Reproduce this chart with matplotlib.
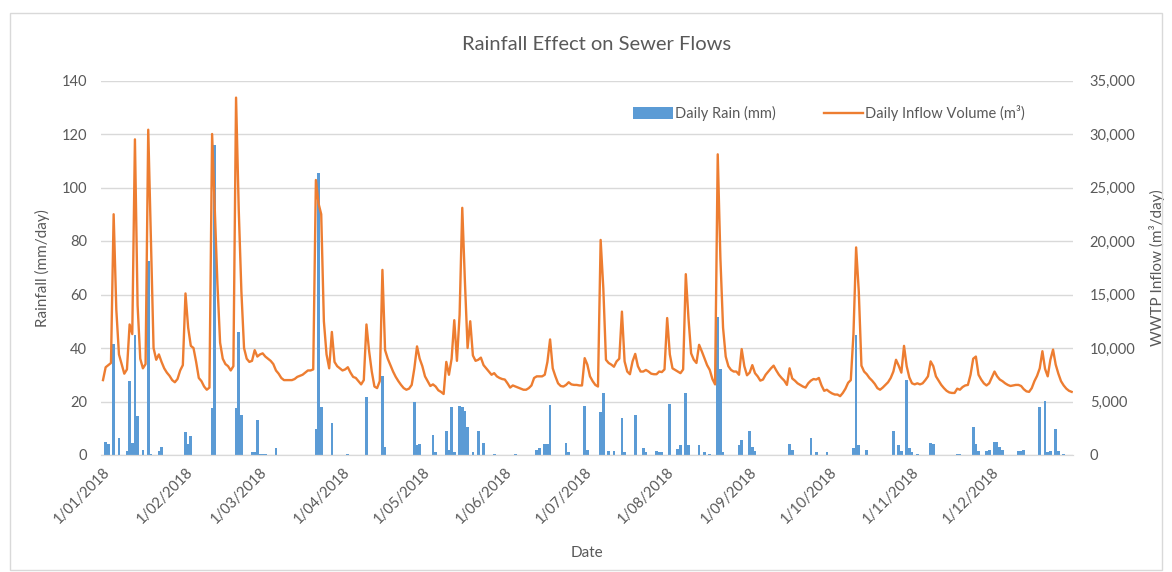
import matplotlib
matplotlib.use("Agg")
import matplotlib.pyplot as plt
import matplotlib.dates as mdates
from matplotlib.patches import Patch, Rectangle
from matplotlib.lines import Line2D
from matplotlib.ticker import FuncFormatter, MultipleLocator
import pandas as pd

plt.rcParams['font.family'] = ['Lato', 'DejaVu Sans']

# daily inflow (m3/day), 1 Jan 2018 .. 31 Dec 2018
inflow = [
    7000, 8200, 8400, 8600, 22500, 13600, 9400, 8500, 7600, 8000,
    12200, 11300, 29500, 14000, 9000, 8100, 8500, 30400, 20000, 10000,
    8900, 9400, 8700, 8100, 7700, 7400, 7000, 6800, 7100, 7900,
    8400, 15100, 11900, 10200, 10000, 8700, 7200, 6900, 6400, 6100,
    6300, 30000, 23000, 16000, 10500, 9000, 8500, 8300, 7900, 8300,
    33400, 23000, 15300, 10000, 9000, 8700, 8800, 9800, 9200, 9400,
    9500, 9200, 9000, 8800, 8500, 7900, 7600, 7200, 7000, 7000,
    7000, 7000, 7100, 7300, 7400, 7500, 7700, 7900, 7900, 8000,
    25700, 23500, 22500, 12500, 9400, 8100, 11500, 8700, 8300, 8100,
    7900, 8000, 8200, 7700, 7300, 7200, 6900, 6600, 7000, 12200,
    9700, 7800, 6400, 6250, 6900, 17300, 9800, 9000, 8400, 7800,
    7300, 6900, 6550, 6250, 6100, 6200, 6550, 8100, 10150, 9000,
    8300, 7350, 6900, 6450, 6600, 6400, 6050, 5900, 5700, 8700,
    7500, 9000, 12600, 8800, 13100, 23100, 16200, 10000, 12500, 9300,
    8800, 8900, 9100, 8400, 8100, 7800, 7500, 7650, 7350, 7200,
    7100, 7050, 6700, 6300, 6500, 6400, 6300, 6200, 6100, 6100,
    6250, 6500, 7200, 7350, 7350, 7350, 7500, 8700, 10800, 8100,
    7350, 6700, 6450, 6400, 6550, 6800, 6600, 6550, 6550, 6500,
    6500, 9050, 8450, 7350, 6900, 6550, 6400, 20100, 15600, 8900,
    8600, 8450, 8250, 8750, 9000, 13400, 8750, 7800, 7550, 8750,
    9450, 8300, 7800, 7800, 7950, 7800, 7600, 7550, 7550, 7800,
    7750, 8000, 12800, 9400, 8100, 7950, 7800, 7650, 8000, 16900,
    12800, 9500, 8900, 8600, 10300, 9700, 9050, 8400, 7950, 7100,
    6600, 28100, 18400, 11900, 9200, 8300, 7950, 7800, 7800, 7500,
    9900, 8300, 7450, 7700, 8400, 7650, 7350, 6950, 7050, 7500,
    7800, 8100, 8350, 7900, 7500, 7200, 6950, 6550, 8100, 7150,
    6950, 6700, 6550, 6400, 6300, 6700, 6950, 7100, 7050, 7200,
    6500, 6000, 6100, 5900, 5750, 5650, 5650, 5500, 5800, 6200,
    6750, 7000, 11300, 19400, 15300, 8350, 7800, 7550, 7200, 6950,
    6650, 6250, 6100, 6300, 6550, 6800, 7200, 7800, 8900, 8350,
    7700, 10200, 8300, 7250, 6700, 6600, 6700, 6600, 6700, 7000,
    7350, 8750, 8300, 7350, 6950, 6550, 6250, 6000, 5850, 5800,
    5800, 6200, 6100, 6350, 6500, 6550, 7500, 9000, 9200, 7500,
    7050, 6700, 6500, 6700, 7250, 7800, 7350, 7050, 6900, 6700,
    6550, 6450, 6500, 6550, 6550, 6450, 6150, 5950, 5900, 6250,
    6900, 7400, 8100, 9700, 8050, 7350, 8900, 9850, 8450, 7600,
    6900, 6500, 6200, 6000, 5900,
]

# days with rain (mm/day)
rain_dates = [
    '2018-01-02', '2018-01-03', '2018-01-05', '2018-01-07', '2018-01-10',
    '2018-01-11', '2018-01-12', '2018-01-13', '2018-01-14', '2018-01-16',
    '2018-01-18', '2018-01-19', '2018-01-22', '2018-01-23', '2018-02-01',
    '2018-02-02', '2018-02-03', '2018-02-11', '2018-02-12', '2018-02-20',
    '2018-02-21', '2018-02-22', '2018-02-26', '2018-02-27', '2018-02-28',
    '2018-03-01', '2018-03-02', '2018-03-03', '2018-03-07', '2018-03-22',
    '2018-03-23', '2018-03-24', '2018-03-28', '2018-04-03', '2018-04-10',
    '2018-04-16', '2018-04-17', '2018-04-28', '2018-04-29', '2018-04-30',
    '2018-05-05', '2018-05-06', '2018-05-10', '2018-05-11', '2018-05-12',
    '2018-05-13', '2018-05-15', '2018-05-16', '2018-05-17', '2018-05-18',
    '2018-05-20', '2018-05-22', '2018-05-24', '2018-05-28', '2018-06-05',
    '2018-06-13', '2018-06-14', '2018-06-16', '2018-06-17', '2018-06-18',
    '2018-06-24', '2018-06-25', '2018-07-01', '2018-07-02', '2018-07-07',
    '2018-07-08', '2018-07-10', '2018-07-12', '2018-07-15', '2018-07-16',
    '2018-07-20', '2018-07-23', '2018-07-24', '2018-07-28', '2018-07-29',
    '2018-07-30', '2018-08-02', '2018-08-05', '2018-08-06', '2018-08-08',
    '2018-08-09', '2018-08-13', '2018-08-15', '2018-08-17', '2018-08-20',
    '2018-08-21', '2018-08-22', '2018-08-28', '2018-08-29', '2018-09-01',
    '2018-09-02', '2018-09-03', '2018-09-16', '2018-09-17', '2018-09-24',
    '2018-09-26', '2018-09-30', '2018-10-10', '2018-10-11', '2018-10-12',
    '2018-10-15', '2018-10-25', '2018-10-27', '2018-10-28', '2018-10-30',
    '2018-10-31', '2018-11-01', '2018-11-03', '2018-11-08', '2018-11-09',
    '2018-11-18', '2018-11-19', '2018-11-24', '2018-11-25', '2018-11-26',
    '2018-11-29', '2018-11-30', '2018-12-02', '2018-12-03', '2018-12-04',
    '2018-12-05', '2018-12-11', '2018-12-12', '2018-12-13', '2018-12-19',
    '2018-12-21', '2018-12-22', '2018-12-23', '2018-12-25', '2018-12-26',
    '2018-12-28',
]
rain_mm = [
    5.0, 4.2, 41.5, 6.5, 1.5,
    27.7, 4.5, 45.0, 14.7, 2.0,
    72.5, 0.5, 1.5, 3.0, 8.5,
    4.0, 7.0, 17.5, 116.0, 17.5,
    46.0, 15.0, 1.0, 1.0, 13.0,
    0.5, 0.5, 0.5, 2.5, 9.8,
    105.6, 18.0, 11.8, 0.5, 21.8,
    29.4, 3.0, 20.0, 3.7, 4.0,
    7.5, 1.0, 8.8, 2.0, 17.8,
    1.0, 18.4, 18.0, 16.5, 10.6,
    1.0, 8.8, 4.6, 0.5, 0.3,
    2.0, 2.5, 4.0, 4.0, 18.7,
    4.4, 1.0, 18.4, 2.0, 16.2,
    23.0, 1.5, 1.5, 13.7, 1.0,
    15.0, 2.7, 1.0, 1.5, 1.0,
    1.0, 19.0, 2.2, 3.7, 23.0,
    3.7, 3.7, 1.0, 0.5, 51.5,
    32.0, 1.0, 3.7, 5.6, 9.0,
    3.0, 1.5, 4.0, 2.0, 6.2,
    1.0, 1.0, 2.7, 45.0, 3.7,
    2.0, 9.0, 3.7, 1.5, 28.0,
    2.5, 1.0, 0.5, 4.4, 4.0,
    0.5, 0.5, 10.6, 4.0, 1.5,
    1.5, 2.0, 5.0, 5.0, 3.0,
    2.0, 1.5, 1.5, 2.0, 17.8,
    20.2, 1.0, 1.5, 9.8, 1.5,
    0.5,
]

days = pd.date_range('2018-01-01', periods=len(inflow), freq='D')
rain_days = pd.to_datetime(rain_dates)

blue = '#5B9BD5'
orange = '#ED7D31'
grey = '#595959'
grid = '#D9D9D9'

fig = plt.figure(figsize=(11.72, 5.72), dpi=100)
fig.patches.append(Rectangle((10/1172, 2/572), 1152/1172, 557/572,
                             transform=fig.transFigure, fill=False,
                             edgecolor=grid, lw=1))

ax = fig.add_axes([101/1172, 1 - 455/572, 972/1172, 374.5/572])
ax2 = ax.twinx()

ax.bar(rain_days, rain_mm, width=1.0, color=blue, zorder=2)
ax2.plot(days, inflow, color=orange, lw=1.7, zorder=3)

ax.set_ylim(0, 140)
ax2.set_ylim(0, 35000)
ax.yaxis.set_major_locator(MultipleLocator(20))
ax2.yaxis.set_major_locator(MultipleLocator(5000))
ax2.yaxis.set_major_formatter(FuncFormatter(lambda v, p: f'{int(v):,}'))
ax.set_xlim(days[0] - pd.Timedelta(hours=18), days[-1] + pd.Timedelta(hours=12))

ax.xaxis.set_major_locator(mdates.MonthLocator())
ax.xaxis.set_major_formatter(FuncFormatter(
    lambda v, p: (lambda d: f'{d.day}/{d.month:02d}/{d.year}')(mdates.num2date(v))))
for lab in ax.get_xticklabels():
    lab.set_rotation(45)
    lab.set_ha('right')
    lab.set_va('top')
    lab.set_rotation_mode('anchor')

ax.grid(axis='y', color=grid, lw=1, zorder=0)
ax.set_axisbelow(True)
for a in (ax, ax2):
    for s in ('top', 'left', 'right'):
        a.spines[s].set_visible(False)
    a.spines['bottom'].set_color(grid)
    a.tick_params(length=0, labelsize=10.5, labelcolor=grey)
ax.tick_params(axis='y', pad=10)
ax2.tick_params(axis='y', pad=12)
ax.tick_params(axis='x', pad=7)

ax.set_ylabel('Rainfall (mm/day)', fontsize=11, color=grey, labelpad=8)
ax2.set_ylabel('WWTP Inflow (m³/day)', fontsize=11, color=grey, labelpad=10)
ax.set_xlabel('Date', fontsize=11, color=grey, labelpad=14)
fig.text(597/1172, 1 - 44/572, 'Rainfall Effect on Sewer Flows',
         ha='center', va='center', fontsize=14.5, color=grey)

handles = [Patch(facecolor=blue, edgecolor='none'),
           Line2D([0], [0], color=orange, lw=1.7)]
ax2.legend(handles, ['Daily Rain (mm)', 'Daily Inflow Volume (m³)'],
           loc='center', bbox_to_anchor=(0.749, 0.913), ncol=2, frameon=False,
           fontsize=10.5, handlelength=2.7, handleheight=0.9, handletextpad=0.15,
           columnspacing=3.3, labelcolor=grey)

fig.savefig('out.png', dpi=100)
